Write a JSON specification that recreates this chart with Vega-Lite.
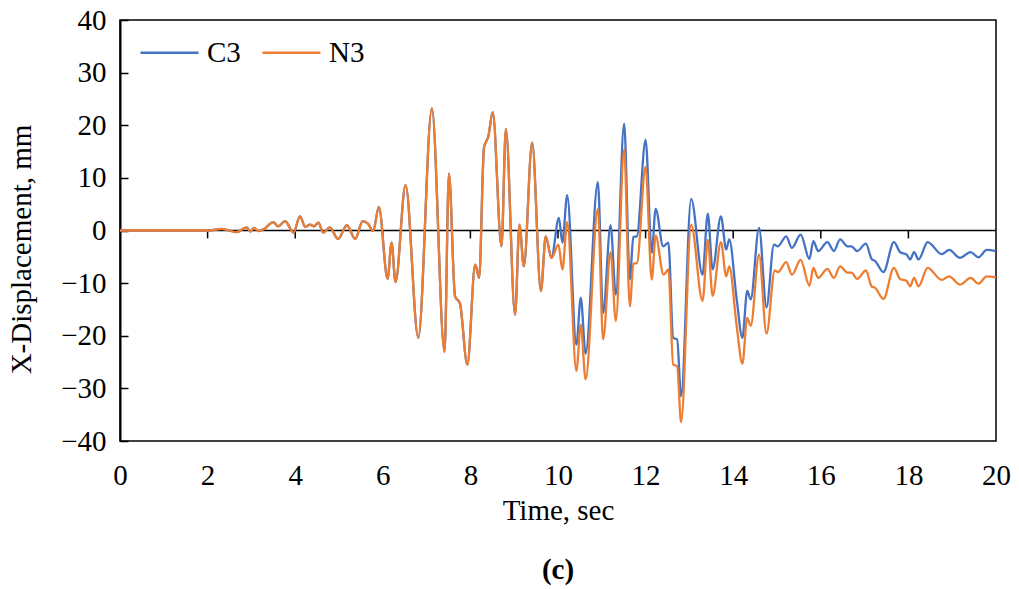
{
  "$schema": "https://vega.github.io/schema/vega-lite/v6.json",
  "autosize": "none",
  "width": 876,
  "height": 421,
  "padding": {"left": 120, "top": 20, "right": 23, "bottom": 148},
  "background": "white",
  "config": {
    "view": {"stroke": "#000000", "strokeWidth": 1.5},
    "font": "Liberation Serif",
    "axis": {"labelFont": "Liberation Serif", "titleFont": "Liberation Serif", "labelColor": "#000", "titleColor": "#000", "grid": false}
  },
  "title": {
    "text": "(c)",
    "orient": "bottom",
    "font": "Liberation Serif",
    "fontSize": 29,
    "fontWeight": "bold",
    "offset": 31,
    "color": "#000"
  },
  "data": {
    "values": [
      {"s": "C3", "t": 0, "v": 0}, {"s": "C3", "t": 2.05, "v": 0}, {"s": "C3", "t": 2.32, "v": 0.3}, {"s": "C3", "t": 2.66, "v": -0.3},
      {"s": "C3", "t": 2.89, "v": 0.6}, {"s": "C3", "t": 2.98, "v": -0.2}, {"s": "C3", "t": 3.06, "v": 0.5}, {"s": "C3", "t": 3.16, "v": -0.1},
      {"s": "C3", "t": 3.29, "v": 0.3}, {"s": "C3", "t": 3.5, "v": 1.6}, {"s": "C3", "t": 3.61, "v": 0.8}, {"s": "C3", "t": 3.77, "v": 1.8},
      {"s": "C3", "t": 3.96, "v": -0.4}, {"s": "C3", "t": 4.11, "v": 2.7}, {"s": "C3", "t": 4.23, "v": 0.7}, {"s": "C3", "t": 4.34, "v": 1.1},
      {"s": "C3", "t": 4.43, "v": 0.8}, {"s": "C3", "t": 4.53, "v": 1.5}, {"s": "C3", "t": 4.64, "v": -0.4}, {"s": "C3", "t": 4.79, "v": 0.6},
      {"s": "C3", "t": 4.98, "v": -1.6}, {"s": "C3", "t": 5.18, "v": 1.0}, {"s": "C3", "t": 5.37, "v": -1.6}, {"s": "C3", "t": 5.54, "v": 1.8},
      {"s": "C3", "t": 5.66, "v": 1.3}, {"s": "C3", "t": 5.78, "v": -0.1}, {"s": "C3", "t": 5.91, "v": 4.5}, {"s": "C3", "t": 6.11, "v": -9.2},
      {"s": "C3", "t": 6.2, "v": -2.3}, {"s": "C3", "t": 6.29, "v": -9.8}, {"s": "C3", "t": 6.52, "v": 8.6}, {"s": "C3", "t": 6.81, "v": -20.4},
      {"s": "C3", "t": 7.12, "v": 23.2}, {"s": "C3", "t": 7.41, "v": -23.1}, {"s": "C3", "t": 7.51, "v": 10.8}, {"s": "C3", "t": 7.65, "v": -12.5},
      {"s": "C3", "t": 7.76, "v": -13.8}, {"s": "C3", "t": 7.93, "v": -25.5}, {"s": "C3", "t": 8.11, "v": -6.5}, {"s": "C3", "t": 8.2, "v": -9.0},
      {"s": "C3", "t": 8.31, "v": 15.7}, {"s": "C3", "t": 8.41, "v": 17.9}, {"s": "C3", "t": 8.51, "v": 22.5}, {"s": "C3", "t": 8.71, "v": -3.0},
      {"s": "C3", "t": 8.81, "v": 19.3}, {"s": "C3", "t": 9.02, "v": -16}, {"s": "C3", "t": 9.12, "v": 1.1}, {"s": "C3", "t": 9.22, "v": -6.8},
      {"s": "C3", "t": 9.41, "v": 16.7}, {"s": "C3", "t": 9.61, "v": -11.5}, {"s": "C3", "t": 9.72, "v": -1.1}, {"s": "C3", "t": 9.85, "v": -5.2},
      {"s": "C3", "t": 10.02, "v": 2.4}, {"s": "C3", "t": 10.1, "v": -2.3}, {"s": "C3", "t": 10.21, "v": 6.7}, {"s": "C3", "t": 10.42, "v": -21.7},
      {"s": "C3", "t": 10.52, "v": -12.8}, {"s": "C3", "t": 10.63, "v": -23.4}, {"s": "C3", "t": 10.91, "v": 9.2}, {"s": "C3", "t": 11.03, "v": -15.7},
      {"s": "C3", "t": 11.2, "v": 1.0}, {"s": "C3", "t": 11.32, "v": -12.2}, {"s": "C3", "t": 11.51, "v": 20.3}, {"s": "C3", "t": 11.64, "v": -9.3},
      {"s": "C3", "t": 11.72, "v": -1.2}, {"s": "C3", "t": 11.8, "v": -1.1}, {"s": "C3", "t": 12.0, "v": 17.2}, {"s": "C3", "t": 12.14, "v": -4.2},
      {"s": "C3", "t": 12.23, "v": 4.1}, {"s": "C3", "t": 12.4, "v": -3.0}, {"s": "C3", "t": 12.52, "v": -2.3}, {"s": "C3", "t": 12.63, "v": -20.4},
      {"s": "C3", "t": 12.72, "v": -20.7}, {"s": "C3", "t": 12.81, "v": -31.5}, {"s": "C3", "t": 13.04, "v": 6.0}, {"s": "C3", "t": 13.3, "v": -8.4},
      {"s": "C3", "t": 13.42, "v": 3.2}, {"s": "C3", "t": 13.53, "v": -7.4}, {"s": "C3", "t": 13.72, "v": 2.7}, {"s": "C3", "t": 13.84, "v": -3.6},
      {"s": "C3", "t": 13.91, "v": -1.7}, {"s": "C3", "t": 14.08, "v": -13.1}, {"s": "C3", "t": 14.21, "v": -20.4}, {"s": "C3", "t": 14.32, "v": -11.5},
      {"s": "C3", "t": 14.4, "v": -13.1}, {"s": "C3", "t": 14.59, "v": 0.5}, {"s": "C3", "t": 14.76, "v": -14.6}, {"s": "C3", "t": 14.93, "v": -2.7},
      {"s": "C3", "t": 15.02, "v": -3.0}, {"s": "C3", "t": 15.21, "v": -1.1}, {"s": "C3", "t": 15.34, "v": -3.3}, {"s": "C3", "t": 15.54, "v": -0.8},
      {"s": "C3", "t": 15.74, "v": -5.4}, {"s": "C3", "t": 15.83, "v": -2.0}, {"s": "C3", "t": 15.94, "v": -3.9}, {"s": "C3", "t": 16.15, "v": -2.2},
      {"s": "C3", "t": 16.3, "v": -3.9}, {"s": "C3", "t": 16.44, "v": -1.7}, {"s": "C3", "t": 16.61, "v": -3.0}, {"s": "C3", "t": 16.7, "v": -3.0},
      {"s": "C3", "t": 16.83, "v": -3.9}, {"s": "C3", "t": 17.03, "v": -2.5}, {"s": "C3", "t": 17.16, "v": -5.4}, {"s": "C3", "t": 17.24, "v": -5.8},
      {"s": "C3", "t": 17.43, "v": -7.9}, {"s": "C3", "t": 17.67, "v": -2.2}, {"s": "C3", "t": 17.81, "v": -4.1}, {"s": "C3", "t": 17.96, "v": -4.6},
      {"s": "C3", "t": 18.04, "v": -5.5}, {"s": "C3", "t": 18.13, "v": -4.1}, {"s": "C3", "t": 18.23, "v": -5.5}, {"s": "C3", "t": 18.44, "v": -2.2},
      {"s": "C3", "t": 18.76, "v": -4.5}, {"s": "C3", "t": 18.93, "v": -3.7}, {"s": "C3", "t": 19.18, "v": -5.2}, {"s": "C3", "t": 19.42, "v": -4.1},
      {"s": "C3", "t": 19.6, "v": -5.1}, {"s": "C3", "t": 19.79, "v": -3.7}, {"s": "C3", "t": 20.0, "v": -3.9},

      {"s": "N3", "t": 0, "v": 0}, {"s": "N3", "t": 2.05, "v": 0}, {"s": "N3", "t": 2.32, "v": 0.3}, {"s": "N3", "t": 2.66, "v": -0.3},
      {"s": "N3", "t": 2.89, "v": 0.6}, {"s": "N3", "t": 2.98, "v": -0.2}, {"s": "N3", "t": 3.06, "v": 0.5}, {"s": "N3", "t": 3.16, "v": -0.1},
      {"s": "N3", "t": 3.29, "v": 0.3}, {"s": "N3", "t": 3.5, "v": 1.6}, {"s": "N3", "t": 3.61, "v": 0.8}, {"s": "N3", "t": 3.77, "v": 1.8},
      {"s": "N3", "t": 3.96, "v": -0.4}, {"s": "N3", "t": 4.11, "v": 2.7}, {"s": "N3", "t": 4.23, "v": 0.7}, {"s": "N3", "t": 4.34, "v": 1.1},
      {"s": "N3", "t": 4.43, "v": 0.8}, {"s": "N3", "t": 4.53, "v": 1.5}, {"s": "N3", "t": 4.64, "v": -0.4}, {"s": "N3", "t": 4.79, "v": 0.6},
      {"s": "N3", "t": 4.98, "v": -1.6}, {"s": "N3", "t": 5.18, "v": 1.0}, {"s": "N3", "t": 5.37, "v": -1.6}, {"s": "N3", "t": 5.54, "v": 1.8},
      {"s": "N3", "t": 5.66, "v": 1.3}, {"s": "N3", "t": 5.78, "v": -0.1}, {"s": "N3", "t": 5.91, "v": 4.5}, {"s": "N3", "t": 6.11, "v": -9.2},
      {"s": "N3", "t": 6.2, "v": -2.3}, {"s": "N3", "t": 6.29, "v": -9.8}, {"s": "N3", "t": 6.52, "v": 8.6}, {"s": "N3", "t": 6.81, "v": -20.4},
      {"s": "N3", "t": 7.12, "v": 23.2}, {"s": "N3", "t": 7.41, "v": -23.1}, {"s": "N3", "t": 7.51, "v": 10.8}, {"s": "N3", "t": 7.65, "v": -12.5},
      {"s": "N3", "t": 7.76, "v": -13.8}, {"s": "N3", "t": 7.93, "v": -25.5}, {"s": "N3", "t": 8.11, "v": -6.5}, {"s": "N3", "t": 8.2, "v": -9.0},
      {"s": "N3", "t": 8.31, "v": 15.7}, {"s": "N3", "t": 8.41, "v": 17.9}, {"s": "N3", "t": 8.51, "v": 22.5}, {"s": "N3", "t": 8.71, "v": -3.0},
      {"s": "N3", "t": 8.81, "v": 19.3}, {"s": "N3", "t": 9.02, "v": -16}, {"s": "N3", "t": 9.12, "v": 1.1}, {"s": "N3", "t": 9.22, "v": -6.8},
      {"s": "N3", "t": 9.41, "v": 16.7}, {"s": "N3", "t": 9.61, "v": -11.5}, {"s": "N3", "t": 9.72, "v": -1.1}, {"s": "N3", "t": 9.85, "v": -5.2},
      {"s": "N3", "t": 10.01, "v": -2.7}, {"s": "N3", "t": 10.1, "v": -7.4}, {"s": "N3", "t": 10.21, "v": 1.6}, {"s": "N3", "t": 10.42, "v": -26.7},
      {"s": "N3", "t": 10.52, "v": -17.9}, {"s": "N3", "t": 10.63, "v": -28.3}, {"s": "N3", "t": 10.91, "v": 4.1}, {"s": "N3", "t": 11.03, "v": -20.7},
      {"s": "N3", "t": 11.2, "v": -4.1}, {"s": "N3", "t": 11.32, "v": -17.2}, {"s": "N3", "t": 11.51, "v": 15.4}, {"s": "N3", "t": 11.64, "v": -14.4},
      {"s": "N3", "t": 11.72, "v": -6.3}, {"s": "N3", "t": 11.8, "v": -6.2}, {"s": "N3", "t": 12.0, "v": 12.1}, {"s": "N3", "t": 12.14, "v": -9.3},
      {"s": "N3", "t": 12.23, "v": -1.0}, {"s": "N3", "t": 12.41, "v": -8.4}, {"s": "N3", "t": 12.52, "v": -7.4}, {"s": "N3", "t": 12.63, "v": -25.5},
      {"s": "N3", "t": 12.72, "v": -25.8}, {"s": "N3", "t": 12.81, "v": -36.4}, {"s": "N3", "t": 13.04, "v": 1.1}, {"s": "N3", "t": 13.3, "v": -13.4},
      {"s": "N3", "t": 13.42, "v": -1.8}, {"s": "N3", "t": 13.53, "v": -12.4}, {"s": "N3", "t": 13.72, "v": -2.2}, {"s": "N3", "t": 13.84, "v": -8.7},
      {"s": "N3", "t": 13.91, "v": -6.8}, {"s": "N3", "t": 14.08, "v": -18.2}, {"s": "N3", "t": 14.21, "v": -25.3}, {"s": "N3", "t": 14.32, "v": -16.6},
      {"s": "N3", "t": 14.4, "v": -18.1}, {"s": "N3", "t": 14.59, "v": -4.6}, {"s": "N3", "t": 14.76, "v": -19.6}, {"s": "N3", "t": 14.95, "v": -7.6},
      {"s": "N3", "t": 15.02, "v": -7.9}, {"s": "N3", "t": 15.21, "v": -6.0}, {"s": "N3", "t": 15.34, "v": -8.4}, {"s": "N3", "t": 15.54, "v": -5.6},
      {"s": "N3", "t": 15.74, "v": -10.5}, {"s": "N3", "t": 15.83, "v": -7.1}, {"s": "N3", "t": 15.94, "v": -9.0}, {"s": "N3", "t": 16.15, "v": -7.3},
      {"s": "N3", "t": 16.3, "v": -9.0}, {"s": "N3", "t": 16.44, "v": -6.8}, {"s": "N3", "t": 16.61, "v": -8.0}, {"s": "N3", "t": 16.7, "v": -8.0},
      {"s": "N3", "t": 16.83, "v": -9.2}, {"s": "N3", "t": 17.03, "v": -7.6}, {"s": "N3", "t": 17.16, "v": -10.6}, {"s": "N3", "t": 17.24, "v": -10.9},
      {"s": "N3", "t": 17.43, "v": -13.0}, {"s": "N3", "t": 17.67, "v": -7.1}, {"s": "N3", "t": 17.81, "v": -9.2}, {"s": "N3", "t": 17.96, "v": -9.6},
      {"s": "N3", "t": 18.04, "v": -10.6}, {"s": "N3", "t": 18.13, "v": -9.0}, {"s": "N3", "t": 18.23, "v": -10.6}, {"s": "N3", "t": 18.44, "v": -7.1},
      {"s": "N3", "t": 18.76, "v": -9.4}, {"s": "N3", "t": 18.93, "v": -8.7}, {"s": "N3", "t": 19.18, "v": -10.3}, {"s": "N3", "t": 19.42, "v": -9.0},
      {"s": "N3", "t": 19.6, "v": -10.1}, {"s": "N3", "t": 19.79, "v": -8.7}, {"s": "N3", "t": 20.0, "v": -8.9}
    ]
  },
  "layer": [
    {
      "data": {"values": [{"v": 0}]},
      "mark": {"type": "rule", "color": "#000000", "strokeWidth": 1.5},
      "encoding": {
        "y": {"field": "v", "type": "quantitative", "scale": {"domain": [-40, 40]}}
      }
    },
    {
      "data": {"values": [{"t": 2}, {"t": 4}, {"t": 6}, {"t": 8}, {"t": 10}, {"t": 12}, {"t": 14}, {"t": 16}, {"t": 18}]},
      "mark": {"type": "rule", "color": "#000000", "strokeWidth": 1.5},
      "encoding": {
        "x": {"field": "t", "type": "quantitative"},
        "y": {"datum": 0},
        "y2": {"datum": -1.5}
      }
    },
    {
      "mark": {"type": "line", "strokeWidth": 2.3, "interpolate": "monotone"},
      "encoding": {
        "x": {
          "field": "t",
          "type": "quantitative",
          "title": "Time, sec",
          "scale": {"domain": [0, 20], "nice": false, "zero": false},
          "axis": {
            "values": [0, 2, 4, 6, 8, 10, 12, 14, 16, 18, 20],
            "domain": false,
            "ticks": false,
            "labelFontSize": 29,
            "labelPadding": 20,
            "labelFlush": false,
            "titleFontSize": 29,
            "titleFontWeight": "normal",
            "titlePadding": 6
          }
        },
        "y": {
          "field": "v",
          "type": "quantitative",
          "title": "X-Displacement, mm",
          "scale": {"domain": [-40, 40], "nice": false},
          "axis": {
            "values": [-40, -30, -20, -10, 0, 10, 20, 30, 40],
            "format": "d",
            "domainWidth": 2,
            "domainColor": "#000",
            "tickColor": "#000",
            "tickWidth": 1.5,
            "tickSize": -8,
            "labelPadding": 22,
            "labelFontSize": 29,
            "labelFlush": false,
            "titleFontSize": 29,
            "titleFontWeight": "normal",
            "titleY": 229,
            "titlePadding": 24
          }
        },
        "color": {
          "field": "s",
          "type": "nominal",
          "title": null,
          "scale": {"domain": ["C3", "N3"], "range": ["#4472C4", "#ED7D31"]},
          "legend": {
            "orient": "none",
            "direction": "horizontal",
            "legendX": 19,
            "legendY": 2,
            "padding": 0,
            "symbolType": "stroke",
            "symbolSize": 3364,
            "symbolStrokeWidth": 2.5,
            "labelFont": "Liberation Serif",
            "labelFontSize": 29,
            "labelColor": "#000",
            "labelOffset": 7,
            "columnPadding": 16
          }
        }
      }
    }
  ]
}
